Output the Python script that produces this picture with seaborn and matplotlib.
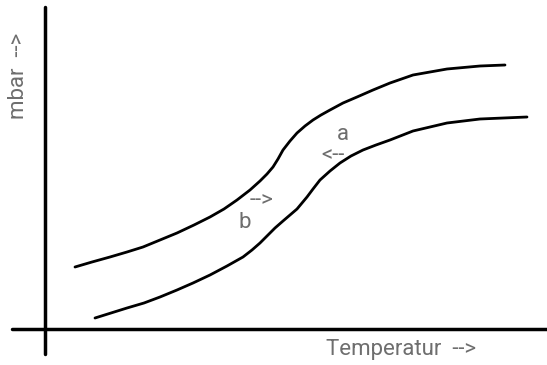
import matplotlib
matplotlib.use('Agg')
import matplotlib.pyplot as plt
import seaborn as sns
import pandas as pd

# upper curve (a) and lower curve (b) in pixel space
upper_x = [75, 92, 110, 127, 143, 160, 177, 194, 210, 224, 237, 250, 260, 267, 273, 278,
           283, 290, 297, 305, 313, 321, 330, 343, 357, 373, 390, 413, 447, 480, 505]
upper_y = [267, 262, 257, 252, 247, 240, 233, 225, 217, 209, 200, 190, 181, 174, 167, 159,
           150, 141, 133, 126, 120, 115, 110, 103, 97, 90, 83, 75, 69, 66, 65]
lower_x = [95, 111, 127, 144, 160, 177, 193, 210, 227, 243, 252, 260, 267, 275, 283, 290,
           297, 302, 307, 313, 320, 330, 340, 351, 363, 376, 390, 413, 447, 480, 527]
lower_y = [318, 313, 308, 303, 297, 290, 283, 275, 266, 257, 250, 243, 236, 228, 221, 215,
           209, 203, 197, 189, 180, 171, 163, 156, 150, 145, 140, 131, 123, 119, 117]

sns.set_theme(style='white')
plt.rcParams['font.family'] = ['Roboto', 'DejaVu Sans']

fig = plt.figure(figsize=(5.47, 3.65), dpi=100)
ax = fig.add_axes([0, 0, 1, 1])

df_up = pd.DataFrame({'x': upper_x, 'y': upper_y})
df_lo = pd.DataFrame({'x': lower_x, 'y': lower_y})
sns.lineplot(data=df_up, x='x', y='y', ax=ax, color='black', lw=2, sort=False)
sns.lineplot(data=df_lo, x='x', y='y', ax=ax, color='black', lw=2, sort=False)

# axes lines
ax.plot([45, 45], [7, 354], color='black', lw=2.5)
ax.plot([12, 547], [329, 329], color='black', lw=2.5)

grey = '#6e6e6e'
fs = 16
ax.text(18, 76, 'mbar  -->', rotation=90, ha='center', va='center', fontsize=fs, color=grey)
ax.text(326, 349, 'Temperatur  -->', ha='left', va='center', fontsize=fs, color=grey)
ax.text(343, 135, 'a', ha='center', va='center', fontsize=fs, color=grey)
ax.text(333, 156, '<--', ha='center', va='center', fontsize=fs, color=grey)
ax.text(261, 201, '-->', ha='center', va='center', fontsize=fs, color=grey)
ax.text(245, 223, 'b', ha='center', va='center', fontsize=fs, color=grey)

ax.set_xlim(0, 547)
ax.set_ylim(365, 0)
ax.axis('off')

fig.savefig('out.png', dpi=100)
